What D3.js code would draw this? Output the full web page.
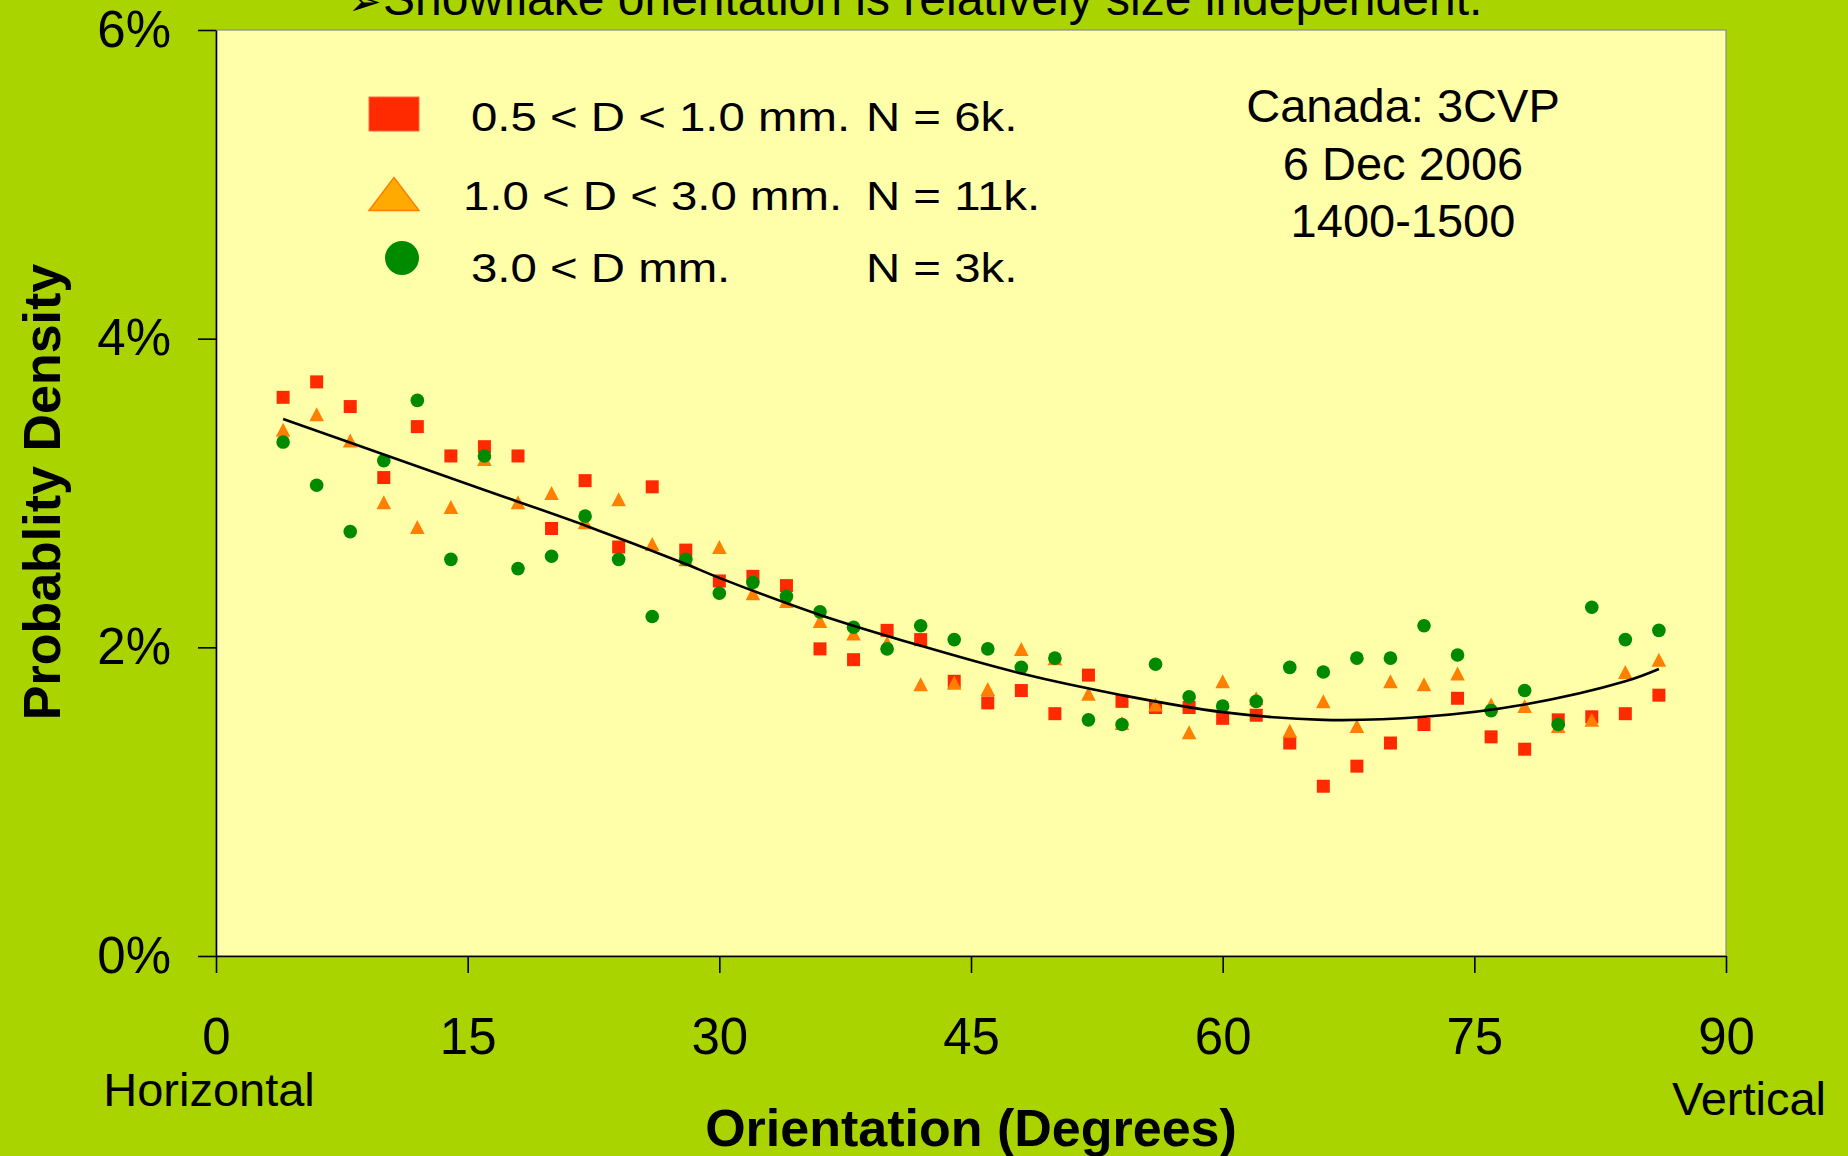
<!DOCTYPE html>
<html>
<head>
<meta charset="utf-8">
<script src="https://cdn.jsdelivr.net/npm/d3@7"></script>
<style>
  html, body { margin: 0; padding: 0; background: #aad400; }
  svg { display: block; }
  text { font-family: "Liberation Sans", Arial, sans-serif; fill: #000; }
</style>
</head>
<body>
<svg id="chart" width="1848" height="1156"></svg>
<script>
// ---- data ----
const angles = [4, 6, 8, 10, 12, 14, 16, 18, 20, 22, 24, 26, 28, 30, 32, 34, 36, 38, 40, 42, 44,
                46, 48, 50, 52, 54, 56, 58, 60, 62, 64, 66, 68, 70, 72, 74, 76, 78, 80, 82, 84, 86];
const smallD = [3.62, 3.72, 3.56, 3.10, 3.43, 3.24, 3.30, 3.24, 2.77, 3.08, 2.65, 3.04, 2.63, 2.43,
                2.46, 2.40, 1.99, 1.92, 2.11, 2.05, 1.78, 1.64, 1.72, 1.57, 1.82, 1.65, 1.61, 1.61,
                1.54, 1.56, 1.38, 1.10, 1.23, 1.38, 1.50, 1.67, 1.42, 1.34, 1.53, 1.55, 1.57, 1.69];
const mediumD = [3.41, 3.51, 3.34, 2.94, 2.78, 2.91, 3.22, 2.94, 3.00, 2.81, 2.96, 2.67, 2.57, 2.65,
                 2.35, 2.30, 2.17, 2.09, 2.03, 1.76, 1.77, 1.73, 1.99, 1.93, 1.70, 1.51, 1.63, 1.45,
                 1.78, 1.67, 1.46, 1.65, 1.49, 1.78, 1.76, 1.83, 1.63, 1.62, 1.49, 1.53, 1.84, 1.92];
const largeD = [3.33, 3.05, 2.75, 3.21, 3.60, 2.57, 3.24, 2.51, 2.59, 2.85, 2.57, 2.20, 2.57, 2.35,
                2.42, 2.33, 2.23, 2.13, 1.99, 2.14, 2.05, 1.99, 1.87, 1.93, 1.53, 1.50, 1.89, 1.68,
                1.62, 1.65, 1.87, 1.84, 1.93, 1.93, 2.14, 1.95, 1.59, 1.72, 1.50, 2.26, 2.05, 2.11];
const trendX = [4, 10, 16, 22, 28, 30, 36, 42, 48, 54, 60, 66, 72, 78, 84, 86];
const trendY = [3.48, 3.25, 3.02, 2.79, 2.54, 2.45, 2.21, 2.01, 1.83, 1.69, 1.58, 1.53, 1.55, 1.63, 1.78, 1.86];
const xTicks = [0, 15, 30, 45, 60, 75, 90];
const yTicks = [0, 2, 4, 6];
const legendLabels = ["0.5 < D < 1.0 mm.", "1.0 < D < 3.0 mm.", "3.0 < D mm."];
const legendCounts = ["N = 6k.", "N = 11k.", "N = 3k."];
const noteLines = ["Canada: 3CVP", "6 Dec 2006", "1400-1500"];
const titleText = "Snowflake orientation is relatively size independent.";

// ---- layout ----
const svg = d3.select("#chart");
const x = d3.scaleLinear().domain([0, 90]).range([216, 1726]);
const y = d3.scaleLinear().domain([0, 6]).range([956, 30]);

const RED = "#ff2a00", ORANGE = "#ff8000", GREEN = "#008a00";

// background
svg.append("rect").attr("width", 1848).attr("height", 1156).attr("fill", "#aad400");

// title (cut off at top)
svg.append("text").attr("x", 348).attr("y", 15).attr("font-size", 40).text("➢");
svg.append("text").attr("x", 383).attr("y", 15).attr("font-size", 48).text(titleText);

// plot area
svg.append("rect")
  .attr("x", x(0)).attr("y", y(6))
  .attr("width", x(90) - x(0)).attr("height", y(0) - y(6))
  .attr("fill", "#ffffaa").attr("stroke", "#8c8c8c").attr("stroke-width", 1.2);

// axes
const xAxis = svg.append("g").attr("transform", `translate(0,${y(0)})`)
  .call(d3.axisBottom(x).tickValues(xTicks).tickSize(17).tickSizeOuter(0).tickPadding(45)
        .tickFormat(d3.format("d")));
xAxis.selectAll("line, path").attr("stroke", "#000").attr("stroke-width", 1.6);
xAxis.selectAll("text").attr("font-size", 51).attr("font-family", "Liberation Sans, Arial, sans-serif").attr("fill", "#000");

const yAxis = svg.append("g").attr("transform", `translate(${x(0)},0)`)
  .call(d3.axisLeft(y).tickValues(yTicks).tickSize(18).tickSizeOuter(0).tickPadding(27)
        .tickFormat(d => d + "%"));
yAxis.selectAll("line, path").attr("stroke", "#000").attr("stroke-width", 1.6);
yAxis.selectAll("text").attr("font-size", 51).attr("font-family", "Liberation Sans, Arial, sans-serif").attr("fill", "#000");

// axis titles
svg.append("text").attr("x", 971).attr("y", 1146).attr("text-anchor", "middle")
  .attr("font-size", 52).attr("font-weight", "bold").text("Orientation (Degrees)");
svg.append("text").attr("transform", "translate(60,492) rotate(-90)").attr("text-anchor", "middle")
  .attr("font-size", 52).attr("font-weight", "bold").text("Probablity Density");
svg.append("text").attr("x", 209).attr("y", 1106).attr("text-anchor", "middle")
  .attr("font-size", 47).text("Horizontal");
svg.append("text").attr("x", 1749).attr("y", 1115).attr("text-anchor", "middle")
  .attr("font-size", 47).text("Vertical");

// data marks
const plot = svg.append("g");
plot.selectAll("rect.small").data(angles).join("rect").attr("class", "small")
  .attr("x", (d, i) => x(d) - 6.5).attr("y", (d, i) => y(smallD[i]) - 6.5)
  .attr("width", 13).attr("height", 13).attr("fill", RED);

const tri = "M0,-7 L7.3,7 L-7.3,7 Z";
plot.selectAll("path.medium").data(angles).join("path").attr("class", "medium")
  .attr("d", tri)
  .attr("transform", (d, i) => `translate(${x(d)},${y(mediumD[i])})`)
  .attr("fill", ORANGE);

plot.selectAll("circle.large").data(angles).join("circle").attr("class", "large")
  .attr("cx", d => x(d)).attr("cy", (d, i) => y(largeD[i])).attr("r", 6.8)
  .attr("fill", GREEN);

// trend line
const line = d3.line().x(d => x(d[0])).y(d => y(d[1])).curve(d3.curveCatmullRom);
plot.append("path").datum(trendX.map((v, i) => [v, trendY[i]]))
  .attr("d", line).attr("fill", "none").attr("stroke", "#000").attr("stroke-width", 2.6);

// legend
const leg = svg.append("g");
leg.append("rect").attr("x", 369).attr("y", 97).attr("width", 50).attr("height", 34)
  .attr("fill", RED).attr("stroke", "#ff6a40").attr("stroke-width", 1);
leg.append("path").attr("d", "M394,177.5 L419,210.5 L369,210.5 Z")
  .attr("fill", "#ffaa00").attr("stroke", ORANGE).attr("stroke-width", 1.5);
leg.append("circle").attr("cx", 402).attr("cy", 258).attr("r", 17).attr("fill", GREEN);

const legX = [471, 463, 471];
const legBase = [131, 210, 282];
legendLabels.forEach((t, i) => {
  leg.append("text").attr("transform", `translate(${legX[i]},${legBase[i]}) scale(1.17,1)`)
    .attr("font-size", 40.5).text(t);
  leg.append("text").attr("transform", `translate(866,${legBase[i]}) scale(1.17,1)`)
    .attr("font-size", 40.5).text(legendCounts[i]);
});

// note
const noteBase = [122, 180, 237];
noteLines.forEach((t, i) => {
  svg.append("text").attr("x", 1403).attr("y", noteBase[i]).attr("text-anchor", "middle")
    .attr("font-size", 47).text(t);
});
</script>
</body>
</html>
